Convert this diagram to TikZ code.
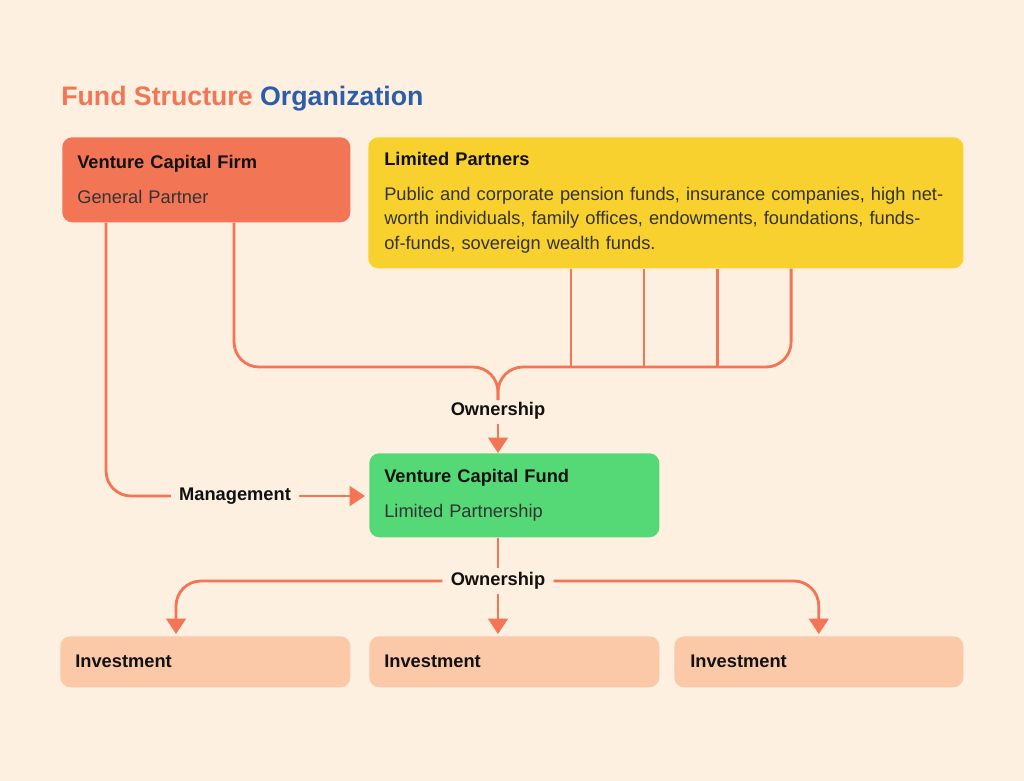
\documentclass[tikz,border=0pt]{standalone}
\usepackage{fontspec}
\setmainfont{Liberation Sans}
\usetikzlibrary{positioning,arrows.meta,calc}
\definecolor{bg1}{HTML}{FDF0E0}
\definecolor{coral1}{HTML}{F27556}
\definecolor{yellow1}{HTML}{F9D12F}
\definecolor{green1}{HTML}{55D977}
\definecolor{peach1}{HTML}{FBC9A7}
\definecolor{blue1}{HTML}{2B5DA8}
\definecolor{ink1}{HTML}{111111}
\definecolor{gray1}{HTML}{333333}

\begin{document}
\begin{tikzpicture}[
    x=0.025cm, y=-0.025cm,
    box/.style={anchor=north west, rounded corners=0.25cm,
                inner xsep=0.375cm, inner ysep=0pt, align=left,
                text=ink1, font=\fontsize{13}{17.2}\selectfont},
    link/.style={draw=coral1, line width=2pt, rounded corners=0.625cm},
    arr/.style={link, -{Triangle[length=11pt, width=14pt]}},
    tag/.style={font=\bfseries\fontsize{13}{15}\selectfont, text=ink1,
                inner xsep=0.2cm, inner ysep=0.1cm},
]
\fill[bg1] (0,0) rectangle (1024,781);
\useasboundingbox (0,0) rectangle (1024,781);

\node[anchor=base west, inner sep=0pt, font=\bfseries\fontsize{19}{22}\selectfont]
    (title) at (61,106) {\textcolor{coral1}{Fund Structure} \textcolor{blue1}{Organization}};

% boxes
\node[box, fill=coral1, text width=6.45cm, minimum height=2.125cm]
    (firm) at (62,137) {\textbf{Venture Capital Firm}\\[7.5pt]\textcolor{gray1}{General Partner}};
\node[box, fill=yellow1, inner xsep=0.4cm, text width=14.075cm, minimum height=3.275cm]
    (lp) at (368,137) {\textbf{Limited Partners}\\[7.5pt]\color{gray1}Public and corporate pension funds, insurance companies, high net-\\
    \color{gray1}worth individuals, family offices, endowments, foundations, funds-\\
    \color{gray1}of-funds, sovereign wealth funds.};
\node[box, fill=green1, text width=6.5cm, minimum height=2.1cm]
    (fund) at (369,453) {\textbf{Venture Capital Fund}\\[7.5pt]\textcolor{gray1}{Limited Partnership}};
\node[box, fill=peach1, text width=6.5cm, minimum height=1.275cm]
    (inv1) at (60,636) {\textbf{Investment}};
\node[box, fill=peach1, text width=6.5cm, minimum height=1.275cm]
    (inv2) at (369,636) {\textbf{Investment}};
\node[box, fill=peach1, inner xsep=0.4cm, text width=6.425cm, minimum height=1.275cm]
    (inv3) at (674,636) {\textbf{Investment}};

% labels
\node[tag] (own1) at (498,411) {Ownership};
\node[tag] (mgmt) at (235,496) {Management};
\node[tag] (own2) at (498,581) {Ownership};

\coordinate (firmM) at ([xshift=1.1cm]firm.south west);
\coordinate (firmO) at ([xshift=4.3cm]firm.south west);
\foreach \dx [count=\i] in {5.075,6.9,8.725,10.575}
    \coordinate (lp\i) at ([xshift=\dx cm]lp.south west);
\coordinate (bus) at (498,367);
\coordinate (merge) at (498,400);
\coordinate (inv1top) at ([xshift=2.9cm]inv1.north west);

% ownership of the fund
\draw[link] (firmO) |- (bus) -- (merge);
\draw[link] (lp4) |- (bus) -- (merge);
\foreach \i in {1,2,3}
    \draw[link] (lp\i) -- (lp\i |- bus);
\draw[arr] (own1.south) -- (own1.south |- fund.north);

% management
\draw[link] (firmM) |- (mgmt.west);
\draw[arr, shorten >=0.1cm] (mgmt.east) -- (mgmt.east -| fund.west);

% investments
\draw[link] (fund.south -| own2.north) -- (own2.north);
\draw[arr, shorten >=0.05cm] (own2.west) -| (inv1top);
\draw[arr, shorten >=0.05cm] (own2.south) -- (own2.south |- inv2.north);
\draw[arr, shorten >=0.05cm] (own2.east) -| (inv3.north);
\end{tikzpicture}
\end{document}
